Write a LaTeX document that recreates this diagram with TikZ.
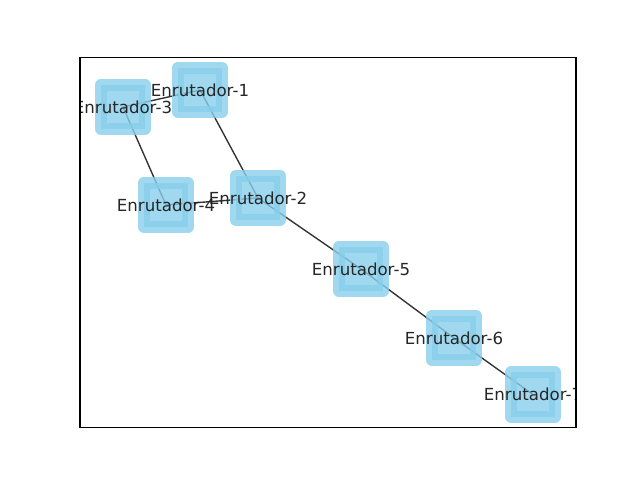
\documentclass[tikz,border=0pt]{standalone}
\usepackage{fontspec}
\setmainfont{DejaVu Sans}
\usepackage{tikz}
\usetikzlibrary{backgrounds}
\definecolor{skyblue}{HTML}{87CEEB}
\definecolor{labelgray}{HTML}{262626}
\definecolor{edgegray}{HTML}{333333}
\tikzset{
    router/.style={rectangle, fill=skyblue, draw=skyblue, fill opacity=0.8, draw opacity=0.8,
        line width=0.12in, line join=round, minimum size=0.44in, inner sep=0pt,
        label={[text opacity=1, text=labelgray, font=\fontsize{12}{14}\selectfont]center:#1}},
    link/.style={draw=edgegray, line width=1pt},
    frame/.style={draw=black, line width=0.8pt}
}

\begin{document}
\begin{tikzpicture}[x=0.01in, y=-0.01in]
            \useasboundingbox (0,0) rectangle (640,480);
            \begin{scope}
            \clip (80,57.6) rectangle (576,427.2);
            \node[router=Enrutador-1] (router1) at (200,90) {};
            \node[router=Enrutador-2] (router2) at (258,198) {};
            \node[router=Enrutador-3] (router3) at (123,107) {};
            \node[router=Enrutador-4] (router4) at (166,205) {};
            \node[router=Enrutador-5] (router5) at (361,269) {};
            \node[router=Enrutador-6] (router6) at (454,338) {};
            \node[router=Enrutador-7] (router7) at (533,394.5) {};
            \end{scope}

            \begin{scope}[on background layer]
            \path[link] (router3.center) -- (router1.center);
            \path[link] (router1.center) -- (router2.center);
            \path[link] (router3.center) -- (router4.center);
            \path[link] (router4.center) -- (router2.center);
            \path[link] (router2.center) -- (router5.center);
            \path[link] (router5.center) -- (router6.center);
            \path[link] (router6.center) -- (router7.center);
            \end{scope}

            \path[frame] (80,57.6) rectangle (576,427.2);
        \end{tikzpicture}
\end{document}
